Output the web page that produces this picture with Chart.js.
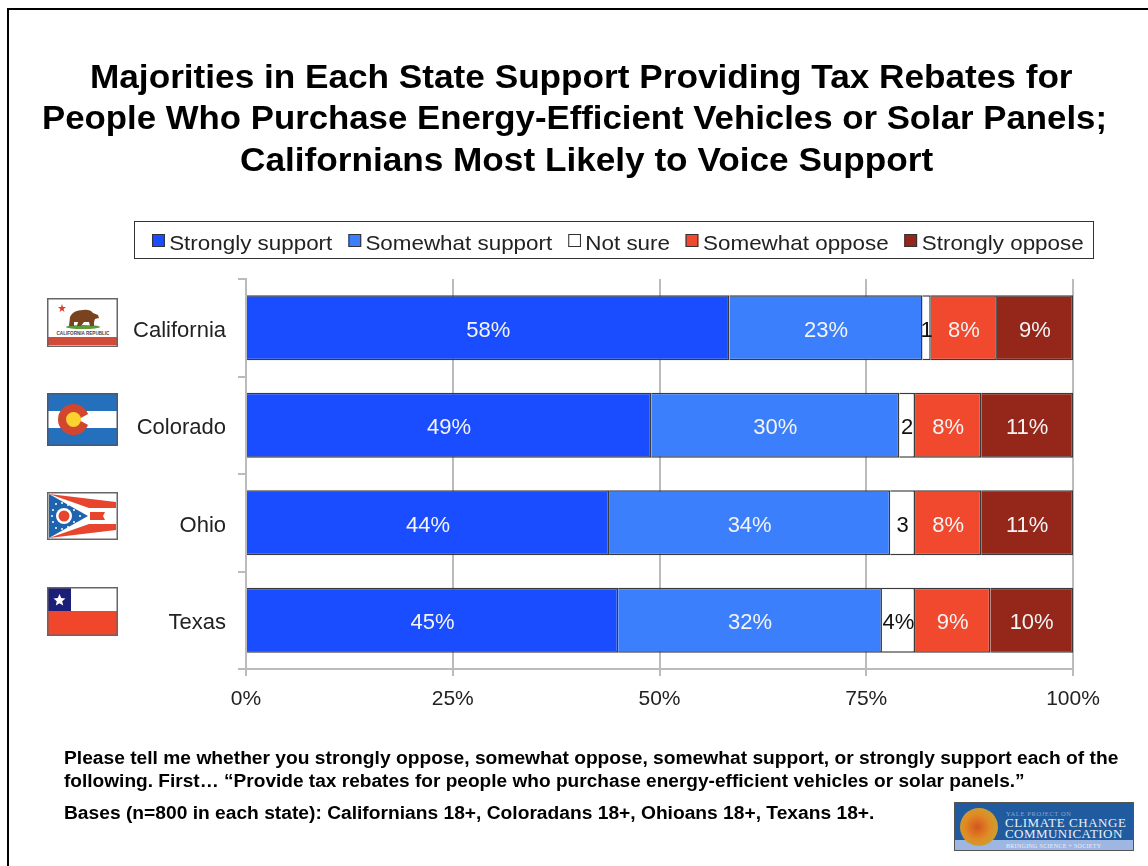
<!DOCTYPE html>
<html>
<head>
<meta charset="utf-8">
<title>Tax rebates for energy-efficient vehicles or solar panels</title>
<script src="https://cdn.jsdelivr.net/npm/chart.js@4/dist/chart.umd.min.js"></script>
<style>
	html, body { margin: 0; padding: 0; background: #fff; }
	body { position: relative; width: 1148px; height: 866px; overflow: hidden; font-family: "Liberation Sans", Arial, sans-serif; color: #111; }
	#chart { position: absolute; left: 0; top: 0; }
	.frame-top { position: absolute; left: 7px; top: 8px; width: 1141px; height: 2px; background: #000; }
	.frame-left { position: absolute; left: 7px; top: 8px; width: 2px; height: 858px; background: #000; }
	/* slide text runs slightly wide, so the text blocks are stretched rather than letter-spaced */
	.title-line { position: absolute; white-space: nowrap; font-weight: bold; font-size: 33px; line-height: 40px; color: #000; transform: scaleX(1.066); transform-origin: left center; }
	#legend { position: absolute; left: 134px; top: 221px; width: 960px; height: 38px; box-sizing: border-box; border: 1px solid #333; }
	#legend .row { display: flex; align-items: center; height: 36px; padding-left: 16px; font-size: 21px; color: #222; transform: scaleX(1.067); transform-origin: left center; }
	#legend .item { display: flex; align-items: center; margin-right: 15px; white-space: nowrap; }
	#legend .name { position: relative; top: 3px; }
	#legend .swatch { width: 10px; height: 11px; border: 1px solid #333; margin-right: 4px; }
	.note { position: absolute; left: 64px; white-space: nowrap; font-weight: bold; font-size: 18px; line-height: 20px; color: #000; transform: scaleX(1.067); transform-origin: left center; }
	svg { position: absolute; overflow: hidden; }
</style>
</head>
<body>
<canvas id="chart" width="1148" height="866"></canvas>
<div class="frame-top"></div>
<div class="frame-left"></div>

<div class="title-line" style="left:90px;top:57px">Majorities in Each State Support Providing Tax Rebates for</div>
<div class="title-line" style="left:42px;top:98px;transform:scaleX(1.054)">People Who Purchase Energy-Efficient Vehicles or Solar Panels;</div>
<div class="title-line" style="left:240px;top:140px">Californians Most Likely to Voice Support</div>

<div id="legend"><div class="row" id="legendRow"></div></div>

<!-- state flags -->
<svg style="left:47px;top:298px" width="71" height="49" viewBox="0 0 71 49">
	<rect width="71" height="49" fill="#fff"/>
	<rect y="39" width="71" height="8" fill="#d24a38"/>
	<polygon points="15,6 16,9 19,9 16.6,11 17.5,14 15,12.2 12.5,14 13.4,11 11,9 14,9" fill="#d9412f"/>
	<ellipse cx="36" cy="29" rx="17" ry="2" fill="#5c9a3c"/>
	<path d="M22 28 L23 19 Q26 12 36 12 Q43 11 46 15 L51 17 L52 20 L48 21 L47 24 L47 28 L43 28 L42 24 L37 24 L34 28 L30 28 L31 24 L27 24 L27 28 Z" fill="#7a4320"/>
	<text x="36" y="36.5" text-anchor="middle" font-family="Liberation Sans" font-weight="bold" font-size="4.6" fill="#444">CALIFORNIA REPUBLIC</text>
	<rect x="0.75" y="0.75" width="69.5" height="47.5" fill="none" stroke="#666" stroke-width="1.5"/>
</svg>
<svg style="left:47px;top:393px" width="71" height="53" viewBox="0 0 71 53">
	<rect width="71" height="53" fill="#2470bc"/>
	<rect y="18" width="71" height="17" fill="#fff"/>
	<circle cx="26.5" cy="26.5" r="11" fill="none" stroke="#d2452f" stroke-width="9"/>
	<polygon points="31,26.5 43,20 43,33" fill="#fff"/>
	<circle cx="26.5" cy="26.5" r="7.5" fill="#fcd22e"/>
	<rect x="0.75" y="0.75" width="69.5" height="51.5" fill="none" stroke="#556" stroke-width="1.5"/>
</svg>
<svg style="left:47px;top:492px" width="71" height="48" viewBox="0 0 71 48">
	<rect width="71" height="48" fill="#fff"/>
	<polygon points="2,2 69,10 69,16 42,16 25,10" fill="#e8452f"/>
	<polygon points="2,46 69,38 69,32 42,32 25,38" fill="#e8452f"/>
	<polygon points="43,20 58,20 56,24 58,28 43,28" fill="#e8452f"/>
	<polygon points="2,2 41,24 2,46" fill="#1e63ad"/>
	<circle cx="17" cy="24" r="8" fill="#fff"/>
	<circle cx="17" cy="24" r="5.5" fill="#e8452f"/>
	<g fill="#fff">
		<circle cx="9" cy="12" r="1"/><circle cx="15" cy="11" r="1"/><circle cx="21" cy="13" r="1"/><circle cx="27" cy="18" r="1"/>
		<circle cx="33" cy="24" r="1"/><circle cx="27" cy="30" r="1"/><circle cx="21" cy="35" r="1"/><circle cx="15" cy="37" r="1"/>
		<circle cx="9" cy="36" r="1"/><circle cx="6" cy="30" r="1"/><circle cx="6" cy="18" r="1"/><circle cx="5" cy="24" r="1"/>
	</g>
	<rect x="0.75" y="0.75" width="69.5" height="46.5" fill="none" stroke="#666" stroke-width="1.5"/>
</svg>
<svg style="left:47px;top:587px" width="71" height="49" viewBox="0 0 71 49">
	<rect width="71" height="24" fill="#fff"/>
	<rect y="24" width="71" height="25" fill="#f0472c"/>
	<rect width="24" height="24" fill="#1c1f78"/>
	<polygon points="12.5,7 14.2,11 18.5,11.4 15.2,14.2 16.2,18.4 12.5,16.2 8.8,18.4 9.8,14.2 6.5,11.4 10.8,11" fill="#fff"/>
	<rect x="0.75" y="0.75" width="69.5" height="47.5" fill="none" stroke="#666" stroke-width="1.5"/>
</svg>

<div class="note" style="top:748px">Please tell me whether you strongly oppose, somewhat oppose, somewhat support, or strongly support each of the</div>
<div class="note" style="top:771px;transform:scaleX(1.06)">following. First… “Provide tax rebates for people who purchase energy-efficient vehicles or solar panels.”</div>
<div class="note" style="top:803px">Bases (n=800 in each state): Californians 18+, Coloradans 18+, Ohioans 18+, Texans 18+.</div>

<!-- program logo -->
<svg style="left:954px;top:802px" width="180" height="49" viewBox="0 0 180 49">
	<defs>
		<radialGradient id="globe" cx="0.45" cy="0.5" r="0.55">
			<stop offset="0" stop-color="#d4551f"/>
			<stop offset="0.6" stop-color="#e08a25"/>
			<stop offset="1" stop-color="#c9a030"/>
		</radialGradient>
	</defs>
	<rect width="180" height="49" fill="#1f5b9e"/>
	<rect y="38" width="180" height="11" fill="#9db6e2"/>
	<circle cx="25" cy="25" r="19" fill="url(#globe)"/>
	<text x="52" y="14" font-family="Liberation Serif" font-size="6.5" letter-spacing="0.6" fill="#86a8d2">YALE PROJECT ON</text>
	<text x="51" y="25" font-family="Liberation Serif" font-size="13" letter-spacing="0.55" fill="#eaf0f8">CLIMATE CHANGE</text>
	<text x="51" y="36" font-family="Liberation Serif" font-size="13" letter-spacing="0.45" fill="#eaf0f8">COMMUNICATION</text>
	<text x="52" y="46" font-family="Liberation Serif" font-size="6" letter-spacing="0.3" fill="#e8eef8">BRINGING SCIENCE + SOCIETY</text>
	<rect x="0.5" y="0.5" width="179" height="48" fill="none" stroke="#555"/>
</svg>

<script>
// Support for tax rebates by state, percent of respondents
const states = ['California', 'Colorado', 'Ohio', 'Texas'];
const stronglySupport = [58.45, 49, 43.9, 45];
const somewhatSupport = [23.35, 30, 34, 31.9];
const notSure = [1, 1.9, 3, 4];
const somewhatOppose = [8, 8, 8, 9.1];
const stronglyOppose = [9.2, 11.1, 11.1, 10];

const seriesNames = ['Strongly support', 'Somewhat support', 'Not sure', 'Somewhat oppose', 'Strongly oppose'];
const seriesColors = ['#1a4dff', '#3b7ffc', '#ffffff', '#f0492e', '#94261a'];
const labelColors = ['#f4f4f4', '#f4f4f4', '#111111', '#f4f4f4', '#f4f4f4'];
const seriesValues = [stronglySupport, somewhatSupport, notSure, somewhatOppose, stronglyOppose];

// the "Not sure" labels only carry a percent sign where there is room
const notSureSuffix = ['', '', '', '%'];
const xTicks = ['0%', '25%', '50%', '75%', '100%'];

const FONT = '"Liberation Sans", Arial, sans-serif';

function buildLegend() {
	const box = document.getElementById('legendRow');
	seriesNames.forEach((name, i) => {
		const item = document.createElement('div');
		item.className = 'item';
		const swatch = document.createElement('span');
		swatch.className = 'swatch';
		swatch.style.background = seriesColors[i];
		const text = document.createElement('span');
		text.className = 'name';
		text.textContent = name;
		item.appendChild(swatch);
		item.appendChild(text);
		box.appendChild(item);
	});
}

// writes the rounded value in the middle of each bar segment
const barLabels = {
	id: 'barLabels',
	afterDatasetsDraw(chart) {
		const ctx = chart.ctx;
		ctx.save();
		ctx.font = '22px ' + FONT;
		ctx.textAlign = 'center';
		ctx.textBaseline = 'middle';
		chart.data.datasets.forEach((ds, d) => {
			chart.getDatasetMeta(d).data.forEach((bar, i) => {
				const suffix = d === 2 ? notSureSuffix[i] : '%';
				const cx = (bar.x + bar.base) / 2;
				ctx.fillStyle = labelColors[d];
				ctx.fillText(Math.round(ds.data[i]) + suffix, cx, bar.y + 3);
			});
		});
		ctx.restore();
	}
};

buildLegend();

new Chart(document.getElementById('chart'), {
	type: 'bar',
	data: {
		labels: states,
		datasets: seriesNames.map((name, i) => ({
			label: name,
			data: seriesValues[i],
			backgroundColor: seriesColors[i],
			borderColor: '#3a3a3a',
			borderWidth: 1.5,
			barPercentage: 0.667,
			categoryPercentage: 1
		}))
	},
	plugins: [barLabels],
	options: {
		indexAxis: 'y',
		responsive: false,
		animation: false,
		layout: { padding: { top: 279, right: 75, bottom: 157, left: 0 } },
		plugins: { legend: { display: false }, title: { display: false }, tooltip: { enabled: false } },
		scales: {
			x: {
				stacked: true,
				min: 0,
				max: 100,
				afterFit: scale => { scale.height = 40; },
				afterBuildTicks: scale => { scale.ticks = xTicks.map((_, i) => ({ value: i * 25 })); },
				ticks: {
					callback: (value, i) => xTicks[i],
					color: '#222',
					font: { family: FONT, size: 21 },
					padding: 11,
					maxRotation: 0,
					autoSkip: false
				},
				grid: { color: '#bbbbbb', lineWidth: 2, tickLength: 7, tickColor: '#bbbbbb' },
				border: { color: '#bbbbbb', width: 2 }
			},
			y: {
				stacked: true,
				afterFit: scale => { scale.width = 246; },
				ticks: {
					// blank first line pushes the name 3px below the band centre
					callback: (value, i) => ['', states[i]],
					color: '#222',
					font: { family: FONT, size: 22, lineHeight: '6px' },
					padding: 12
				},
				grid: { drawOnChartArea: false, color: '#bbbbbb', lineWidth: 2, tickLength: 8, tickColor: '#bbbbbb' },
				border: { color: '#bbbbbb', width: 2 }
			}
		}
	}
});
</script>
</body>
</html>
